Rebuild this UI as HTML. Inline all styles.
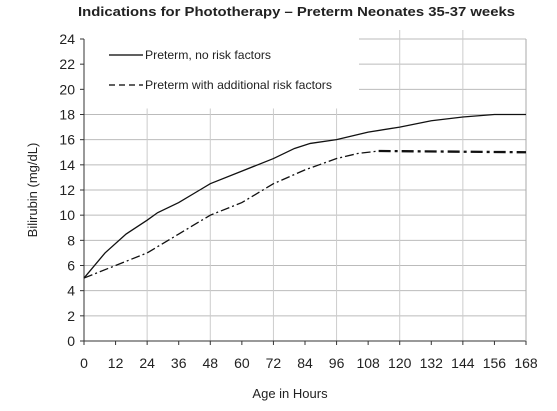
<!DOCTYPE html>
<html><head><meta charset="utf-8"><style>
body{margin:0;background:#fff;width:557px;height:406px;overflow:hidden}
text{font-family:"Liberation Sans",sans-serif;fill:#222}
</style></head><body>
<svg width="557" height="406">
<text x="78" y="16" textLength="437" lengthAdjust="spacingAndGlyphs" font-size="13" font-weight="bold" fill="#000">Indications for Phototherapy – Preterm Neonates 35-37 weeks</text>
<g id="grid"></g>
<g id="axes"></g>
<g id="series"></g>
<g>
<line x1="109" y1="55" x2="143" y2="55" stroke="#000" stroke-width="1.3"/>
<text x="145" y="59" font-size="12" textLength="126" lengthAdjust="spacingAndGlyphs">Preterm, no risk factors</text>
<line x1="109" y1="85" x2="143" y2="85" stroke="#000" stroke-width="1.3" stroke-dasharray="6,4"/>
<text x="145" y="89" font-size="12" textLength="187" lengthAdjust="spacingAndGlyphs">Preterm with additional risk factors</text>
</g>
<text x="290" y="398" text-anchor="middle" font-size="13">Age in Hours</text>
<text transform="translate(37,190) rotate(-90)" text-anchor="middle" font-size="13">Bilirubin (mg/dL)</text>
</svg>
<script>
const xTicks=[0,12,24,36,48,60,72,84,96,108,120,132,144,156,168];
const yTicks=[0,2,4,6,8,10,12,14,16,18,20,22,24];
const noRiskHours=[0,8,16,24,28,36,44,48,60,72,80,86,96,108,120,132,144,156,168];
const noRiskValues=[5,7,8.5,9.6,10.2,11,12,12.5,13.5,14.5,15.3,15.7,16,16.6,17,17.5,17.8,18,18];
const riskHours=[0,12,24,36,48,60,72,84,96,104,112];
const riskValues=[5,6,7,8.5,10,11,12.5,13.6,14.5,14.9,15.1];
const riskPlateauHours=[112,168];
const riskPlateauValues=[15.1,15];
const X0=84,X1=526,Y0=341,Y1=39;
const sx=h=>X0+(h-0)/168*(X1-X0);
const sy=v=>Y0-v/24*(Y0-Y1);
const NS="http://www.w3.org/2000/svg";
function mk(tag,attrs,parent){const e=document.createElementNS(NS,tag);for(const k in attrs)e.setAttribute(k,attrs[k]);document.getElementById(parent).appendChild(e);return e;}
yTicks.forEach(v=>{if(v===0)return;const x1=(v>=20)?359:X0;
const l=mk('line',{x1:x1,x2:X1,y1:sy(v),y2:sy(v),stroke:'#bbb','stroke-width':1},'grid');

});
[24,48,72,96,120,144].forEach(h=>{const top=h<=96?sy(18)-6:30;
const l=mk('line',{x1:sx(h),x2:sx(h),y1:top,y2:Y0,stroke:'#ccc','stroke-width':1},'grid');

});
let a=mk('line',{x1:X0,x2:X0,y1:Y1,y2:Y0,stroke:'#333'},'axes');


a=mk('line',{x1:X0,x2:X1,y1:Y0,y2:Y0,stroke:'#333'},'axes');


a=mk('line',{x1:X1,x2:X1,y1:Y1,y2:Y0,stroke:'#aaa'},'axes');


yTicks.forEach(v=>{mk('line',{x1:X0-4,x2:X0,y1:sy(v),y2:sy(v),stroke:'#333'},'axes');
const t=mk('text',{x:X0-9,y:sy(v)+5,'text-anchor':'end','font-size':14},'axes');t.textContent=v;

});
xTicks.forEach(h=>{mk('line',{x1:sx(h),x2:sx(h),y1:Y0,y2:Y0+4,stroke:'#333'},'axes');
const t=mk('text',{x:sx(h),y:368,'text-anchor':'middle','font-size':14},'axes');t.textContent=h;

});
const pts=(hs,vs)=>hs.map((h,i)=>sx(h)+','+sy(vs[i])).join(' ');
let p=mk('polyline',{points:pts(noRiskHours,noRiskValues),fill:'none',stroke:'#111','stroke-width':1.3},'series');


p=mk('polyline',{points:pts(riskHours,riskValues),fill:'none',stroke:'#111','stroke-width':1.3,'stroke-dasharray':'9,3,2,3'},'series');


p=mk('polyline',{points:pts(riskPlateauHours,riskPlateauValues),fill:'none',stroke:'#111','stroke-width':2.3,'stroke-dasharray':'12,4,3,4'},'series');


</script>
</body></html>
